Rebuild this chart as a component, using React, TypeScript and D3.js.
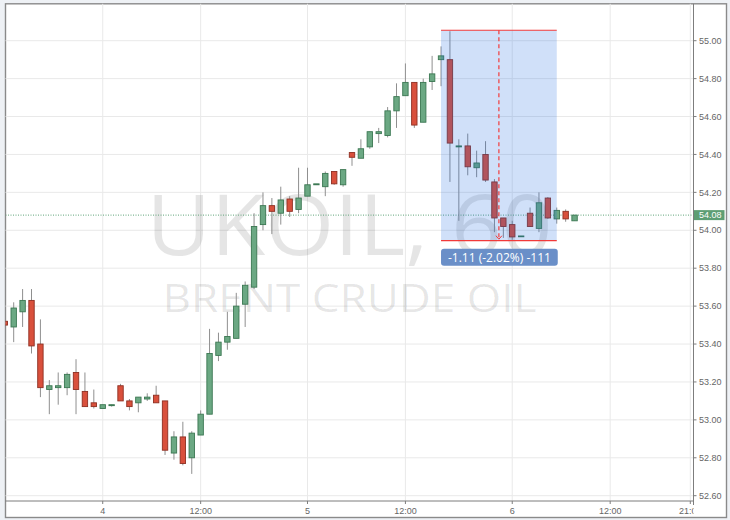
import React from "react";
import * as d3 from "d3";

// hourly candles, UKOIL 60
const opens = [
  53.52, 53.49, 53.57, 53.63, 53.4, 53.16, 53.17, 53.17, 53.25, 53.15,
  53.09, 53.06, 53.075, 53.18, 53.1, 53.09, 53.11, 53.13, 53.1, 52.825,
  52.91, 52.8, 52.92, 53.03, 53.34, 53.41, 53.43, 53.61, 53.7, 54.03,
  54.13, 54.09, 54.165, 54.11, 54.18, 54.24, 54.23, 54.31, 54.24, 54.41,
  54.38, 54.44, 54.51, 54.5, 54.63, 54.71, 54.78, 54.57, 54.785, 54.9,
  54.9, 54.44, 54.445, 54.33, 54.4, 54.255, 54.065, 54.03, 53.968, 54.09,
  54.01, 54.17, 54.06, 54.1, 54.05,
];
const highs = [
  53.53, 53.62, 53.69, 53.69, 53.53, 53.21, 53.25, 53.25, 53.32, 53.25,
  53.16, 53.08, 53.08, 53.19, 53.11, 53.12, 53.14, 53.18, 53.1, 52.94,
  52.99, 52.94, 53.05, 53.48, 53.46, 53.57, 53.67, 53.73, 54.09, 54.2,
  54.17, 54.23, 54.18, 54.33, 54.33, 54.24, 54.31, 54.31, 54.32, 54.41,
  54.48, 54.52, 54.54, 54.65, 54.775, 54.88, 54.78, 54.8, 54.92, 54.97,
  55.05, 54.48, 54.51, 54.42, 54.47, 54.27, 54.065, 54.05, 53.97, 54.12,
  54.2, 54.175, 54.12, 54.11, 54.08,
];
const lows = [
  53.49, 53.41, 53.49, 53.35, 53.12, 53.03, 53.08, 53.13, 53.03, 53.07,
  53.06, 53.06, 53.07, 53.1, 53.05, 53.04, 53.1, 53.09, 52.815, 52.79,
  52.76, 52.715, 52.92, 53.03, 53.31, 53.37, 53.43, 53.49, 53.69, 54.0,
  53.98, 54.03, 54.07, 54.09, 54.18, 54.24, 54.18, 54.24, 54.23, 54.34,
  54.38, 54.43, 54.46, 54.49, 54.54, 54.71, 54.54, 54.57, 54.74, 54.76,
  54.255, 54.05, 54.29, 54.28, 54.255, 53.99, 53.96, 53.95, 53.965, 54.02,
  53.99, 54.06, 54.035, 54.045, 54.05,
];
const closes = [
  53.5, 53.59, 53.63, 53.39, 53.17, 53.18, 53.18, 53.24, 53.16, 53.07,
  53.07, 53.08, 53.08, 53.1, 53.07, 53.12, 53.12, 53.09, 52.84, 52.91,
  52.77, 52.93, 53.03, 53.35, 53.41, 53.44, 53.6, 53.71, 54.02, 54.13,
  54.1, 54.16, 54.1, 54.17, 54.24, 54.245, 54.3, 54.245, 54.32, 54.385,
  54.43, 54.52, 54.52, 54.63, 54.705, 54.78, 54.555, 54.78, 54.825, 54.92,
  54.46, 54.445, 54.335, 54.355, 54.265, 54.065, 54.02, 53.965, 53.97, 54.02,
  54.145, 54.065, 54.105, 54.06, 54.08,
];

const priceTicks = [52.6, 52.8, 53.0, 53.2, 53.4, 53.6, 53.8, 54.0, 54.2, 54.4, 54.6, 54.8, 55.0];
const timeTickIdx = [12, 23, 35, 46, 58, 69, 78];
const timeTickLabels = ["4", "12:00", "5", "12:00", "6", "12:00", "21:00"];

const lastPrice = 54.08;
// price range measure tool
const measureIdx = [50, 63];
const measurePrice = [55.055, 53.945];

const W = 730;
const H = 520;
const frame = { left: 5.5, top: 3.8, right: 726.5, bottom: 517.5 };
const plotRight = 693.5;
const plotBottom = 501;

const axisFont = "'Liberation Sans', Arial, sans-serif";
const green = "#6ba883";
const greenStroke = "#3b7752";
const red = "#d9503c";
const redStroke = "#8e2f22";

export default function App() {
  const x = d3.scaleLinear().domain([1, 78]).range([4.8, 690.3]);
  const y = d3.scaleLinear().domain([52.6, 55.0]).range([495.7, 40.7]);

  const mx0 = x(measureIdx[0]);
  const mx1 = x(measureIdx[1]);
  const my0 = y(measurePrice[0]);
  const my1 = y(measurePrice[1]);
  const mxMid = (mx0 + mx1) / 2;
  const diff = measurePrice[1] - measurePrice[0];
  const pct = (diff / measurePrice[0]) * 100;
  const measureText = `${diff.toFixed(2)} (${pct.toFixed(2)}%) ${Math.round(diff * 100)}`;

  const plotW = plotRight - frame.left;
  const wmX = frame.left + plotW / 2;

  return (
    <svg
      width={W}
      height={H}
      style={{ position: "absolute", left: 0, top: 0 }}
      fontFamily={axisFont}
    >
      <defs>
        <clipPath id="plotClip">
          <rect x={frame.left} y={frame.top} width={plotRight - frame.left} height={plotBottom - frame.top} />
        </clipPath>
        <clipPath id="timeClip">
          <rect x={frame.left} y={plotBottom} width={plotRight - frame.left} height={frame.bottom - plotBottom} />
        </clipPath>
      </defs>
      <rect x={0} y={0} width={W} height={H} fill="#eef1f5" />
      <rect
        x={frame.left}
        y={frame.top}
        width={frame.right - frame.left}
        height={frame.bottom - frame.top}
        fill="#fff"
        stroke="#8a8a8a"
        strokeWidth={1.4}
      />

      {/* grid */}
      <g stroke="#e9e9e9" strokeWidth={1}>
        {priceTicks.map((p, i) => (
          <line key={`hg${i}`} x1={frame.left} x2={plotRight} y1={y(p)} y2={y(p)} />
        ))}
        {timeTickIdx.map((t, i) => (
          <line key={`vg${i}`} x1={x(t)} x2={x(t)} y1={frame.top} y2={plotBottom} />
        ))}
      </g>

      {/* watermark */}
      <g fontFamily="'Open Sans', 'DejaVu Sans', sans-serif" fill="#000" fillOpacity={0.1} textAnchor="middle">
        <text x={wmX} y={255} fontSize={84} textLength={406} lengthAdjust="spacingAndGlyphs">
          UKOIL, 60
        </text>
        <text x={wmX} y={312} fontSize={39} textLength={374} lengthAdjust="spacingAndGlyphs">
          BRENT CRUDE OIL
        </text>
      </g>

      <g clipPath="url(#plotClip)">
        {/* last price line */}
        <line
          x1={frame.left}
          x2={plotRight}
          y1={y(lastPrice)}
          y2={y(lastPrice)}
          stroke="#5fa57a"
          strokeWidth={1}
          strokeDasharray="1,1.5"
        />
        {/* candles */}
        {opens.map((o, i) => {
          const c = closes[i];
          const cx = x(i + 1);
          const up = c >= o;
          const top = y(Math.max(o, c));
          const bot = y(Math.min(o, c));
          return (
            <g key={`c${i}`}>
              <line x1={cx} x2={cx} y1={y(highs[i])} y2={y(lows[i])} stroke="#8f8f8f" strokeWidth={1} />
              <rect
                x={cx - 2.7}
                y={top}
                width={5.4}
                height={Math.max(bot - top, 0.8)}
                fill={up ? green : red}
                stroke={up ? greenStroke : redStroke}
                strokeWidth={0.9}
              />
            </g>
          );
        })}

        {/* measure tool */}
        <rect x={mx0} y={my0} width={mx1 - mx0} height={my1 - my0} fill="rgb(20,100,225)" fillOpacity={0.2} />
        <line x1={mx0} x2={mx1} y1={my0} y2={my0} stroke="#f23a3a" strokeWidth={1.2} />
        <line x1={mx0} x2={mx1} y1={my1} y2={my1} stroke="#f23a3a" strokeWidth={1.2} />
        <line
          x1={mxMid}
          x2={mxMid}
          y1={my0}
          y2={my1 - 1}
          stroke="#f23a3a"
          strokeWidth={1.2}
          strokeDasharray="4,3"
        />
        <path
          d={`M${mxMid - 3},${my1 - 5} L${mxMid},${my1 - 1.5} L${mxMid + 3},${my1 - 5}`}
          fill="none"
          stroke="#f23a3a"
          strokeWidth={1}
        />
        <rect x={mx0} y={my1 + 8} width={mx1 - mx0 + 1} height={17} rx={3} fill="#6a8fc8" />
        <text
          x={mxMid + 0.5}
          y={my1 + 16.5}
          dy="0.36em"
          fill="#fff"
          fontSize={12}
          textAnchor="middle"
          fontFamily="'Open Sans', 'DejaVu Sans', sans-serif"
          textLength={103}
          lengthAdjust="spacingAndGlyphs"
        >
          {measureText}
        </text>
      </g>

      {/* axes */}
      <line x1={plotRight} x2={plotRight} y1={frame.top} y2={plotBottom + 4} stroke="#7d7d7d" strokeWidth={1} />
      <line x1={frame.left} x2={plotRight} y1={plotBottom} y2={plotBottom} stroke="#7d7d7d" strokeWidth={1} />
      <g fontSize={9} fill="#666">
        {priceTicks.map((p, i) => (
          <g key={`yt${i}`}>
            <line x1={plotRight} x2={plotRight + 3} y1={y(p)} y2={y(p)} stroke="#7d7d7d" />
            <text x={plotRight + 5.5} y={y(p)} dy="0.35em">
              {p.toFixed(2)}
            </text>
          </g>
        ))}
      </g>
      <g clipPath="url(#timeClip)" fontSize={9} fill="#666" textAnchor="middle">
        {timeTickIdx.map((t, i) => (
          <g key={`xt${i}`}>
            <line x1={x(t)} x2={x(t)} y1={plotBottom} y2={plotBottom + 3} stroke="#7d7d7d" />
            <text x={x(t)} y={510.7} dy="0.35em">
              {timeTickLabels[i]}
            </text>
          </g>
        ))}
      </g>

      {/* last price label */}
      <rect x={plotRight + 0.5} y={y(lastPrice) - 5} width={30.5} height={10} fill="#5e9e74" />
      <text x={plotRight + 5.5} y={y(lastPrice)} dy="0.35em" fontSize={9} fill="#fff">
        {lastPrice.toFixed(2)}
      </text>
    </svg>
  );
}
